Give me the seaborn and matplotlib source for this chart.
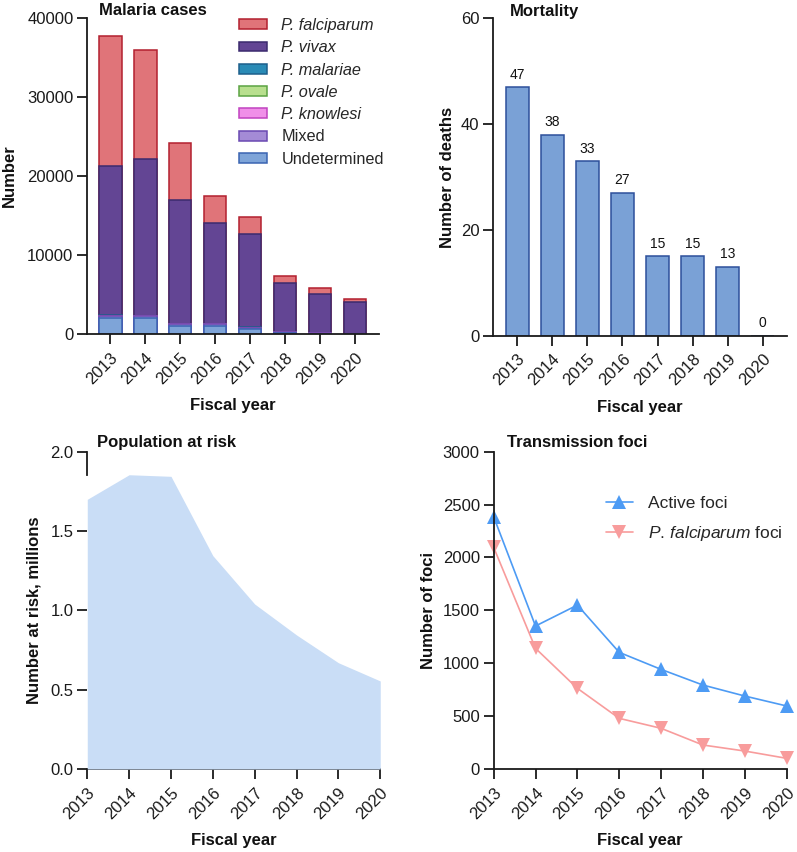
import numpy as np
import pandas as pd
import matplotlib
matplotlib.use("Agg")
import matplotlib.pyplot as plt
from matplotlib.patches import Patch
import seaborn as sns

# ---------------- data ----------------
years = [2013, 2014, 2015, 2016, 2017, 2018, 2019, 2020]
year_labels = [str(y) for y in years]

undetermined = [2000, 2000, 1000, 1000, 600, 150, 40, 20]
mixed = [300, 250, 250, 250, 200, 60, 30, 10]
knowlesi = [5, 5, 5, 5, 5, 5, 5, 5]
ovale = [10, 10, 10, 10, 10, 5, 5, 5]
malariae = [30, 30, 30, 30, 20, 20, 10, 10]
vivax = [18850, 19800, 15700, 12800, 11770, 6160, 4910, 4050]
falciparum = [16500, 13800, 7200, 3400, 2200, 900, 800, 300]

deaths = [47, 38, 33, 27, 15, 15, 13, 0]

pop_at_risk = [1.70, 1.855, 1.845, 1.345, 1.04, 0.845, 0.67, 0.555]

active_foci = [2385, 1352, 1550, 1103, 942, 794, 690, 596]
pf_foci = [2096, 1141, 763, 479, 385, 227, 170, 101]

species_names = ["P. falciparum", "P. vivax", "P. malariae", "P. ovale",
                 "P. knowlesi", "Mixed", "Undetermined"]
species_fill = ["#e07479", "#634594", "#2a8bb6", "#b8df8e", "#f08fe8", "#a48bd6", "#7ea4d8"]
species_edge = ["#b3202f", "#3b2a6e", "#1d5f8c", "#5ba343", "#c143c0", "#6a49b2", "#3a64b2"]

# ---------------- style ----------------
sns.set_theme(style="ticks")
plt.rcParams["font.family"] = ["Liberation Sans", "DejaVu Sans"]
plt.rcParams["mathtext.fontset"] = "custom"
plt.rcParams["mathtext.rm"] = "Liberation Sans"
plt.rcParams["mathtext.it"] = "Liberation Sans:italic"
plt.rcParams["axes.linewidth"] = 1.3
plt.rcParams["xtick.major.width"] = 1.3
plt.rcParams["ytick.major.width"] = 1.3
plt.rcParams["xtick.major.size"] = 7
plt.rcParams["ytick.major.size"] = 7
plt.rcParams["xtick.labelsize"] = 12
plt.rcParams["ytick.labelsize"] = 12
plt.rcParams["xtick.color"] = "#1a1a1a"
plt.rcParams["ytick.color"] = "#1a1a1a"
plt.rcParams["axes.edgecolor"] = "#1a1a1a"

fig = plt.figure(figsize=(7.97, 8.52), dpi=100)
ax1 = fig.add_axes([0.1095, 0.608, 0.3664, 0.371])
ax2 = fig.add_axes([0.619, 0.606, 0.368, 0.3725])
ax3 = fig.add_axes([0.1095, 0.0974, 0.3676, 0.3724])
ax4 = fig.add_axes([0.6194, 0.0974, 0.3676, 0.3724])

label_kw = dict(fontsize=12, fontweight="bold", color="#111111")
title_kw = dict(fontsize=12, fontweight="bold", color="#111111")


def rot_ticks(ax):
    plt.setp(ax.get_xticklabels(), rotation=45, ha="right", rotation_mode="anchor")


# ---------------- panel 1: stacked cases ----------------
# stack indices: 0 undet,1 mixed,2 knowlesi,3 ovale,4 malariae,5 vivax,6 falciparum
stack_bottom_to_top = [undetermined, mixed, knowlesi, ovale, malariae, vivax, falciparum]
cum = np.cumsum(np.array(stack_bottom_to_top), axis=0)
stack_to_name = {0: 6, 1: 5, 2: 4, 3: 3, 4: 2, 5: 1, 6: 0}
for si in [6, 5, 4, 3, 2, 1, 0]:
    ni = stack_to_name[si]
    sns.barplot(x=year_labels, y=cum[si], color=species_fill[ni], edgecolor=species_edge[ni],
                linewidth=1.1, width=0.64, saturation=1, ax=ax1)
ax1.set_xlim(-0.66, 7.69)
ax1.set_ylim(0, 40000)
ax1.set_yticks([0, 10000, 20000, 30000, 40000])
ax1.set_xlabel("Fiscal year", labelpad=8, **label_kw)
ax1.set_ylabel("Number", labelpad=7, **label_kw)
rot_ticks(ax1)
handles = [Patch(facecolor=species_fill[i], edgecolor=species_edge[i], linewidth=1.1)
           for i in range(7)]
leg = ax1.legend(handles, species_names, loc="upper left", bbox_to_anchor=(0.52, 1.0),
                 frameon=False, fontsize=11.7, handlelength=1.7, handleheight=0.55,
                 handletextpad=0.9, labelspacing=0.45, borderpad=0, borderaxespad=0)
for t in leg.get_texts()[:5]:
    t.set_style("italic")
ax1.text(0.04, 1.022, "Malaria cases", transform=ax1.transAxes, va="center", ha="left", **title_kw)

# ---------------- panel 2: mortality ----------------
sns.barplot(x=year_labels, y=deaths, color="#7aa1d6", edgecolor="#2d509b",
            linewidth=1.1, width=0.66, saturation=1, ax=ax2)
ax2.bar_label(ax2.containers[0], fontsize=10, padding=4, color="#111111")
ax2.set_xlim(-0.68, 7.68)
ax2.set_ylim(0, 60)
ax2.set_yticks([0, 20, 40, 60])
ax2.set_xlabel("Fiscal year", labelpad=8, **label_kw)
ax2.set_ylabel("Number of deaths", labelpad=4, **label_kw)
rot_ticks(ax2)
ax2.text(0.055, 1.022, "Mortality", transform=ax2.transAxes, va="center", ha="left", **title_kw)

# ---------------- panel 3: population at risk ----------------
ax3.fill_between(years, pop_at_risk, 0, color="#c9ddf6", linewidth=0, zorder=3)
ax3.set_xlim(2013, 2020)
ax3.set_ylim(0, 2.0)
ax3.set_xticks(years)
ax3.set_xticklabels(year_labels)
ax3.set_yticks([0.0, 0.5, 1.0, 1.5, 2.0])
ax3.set_yticklabels(["0.0", "0.5", "1.0", "1.5", "2.0"])
ax3.set_xlabel("Fiscal year", labelpad=8, **label_kw)
ax3.set_ylabel("Number at risk, millions", labelpad=6, **label_kw)
rot_ticks(ax3)
ax3.text(0.034, 1.03, "Population at risk", transform=ax3.transAxes, va="center", ha="left", **title_kw)

# ---------------- panel 4: transmission foci ----------------
foci_df = pd.DataFrame({"year": years, "active": active_foci, "pf": pf_foci})
sns.lineplot(data=foci_df, x="year", y="active", ax=ax4, color="#4d9bf4", marker="^",
             markersize=10, markeredgewidth=0, linewidth=1.2, label="Active foci", clip_on=False)
sns.lineplot(data=foci_df, x="year", y="pf", ax=ax4, color="#f89c9c", marker="v",
             markersize=10, markeredgewidth=0, linewidth=1.2,
             label=r"$\it{P.\,falciparum}$ foci", clip_on=False)
ax4.set_xlim(2013, 2020)
ax4.set_ylim(0, 3000)
ax4.set_xticks(years)
ax4.set_xticklabels(year_labels)
ax4.set_yticks([0, 500, 1000, 1500, 2000, 2500, 3000])
ax4.set_xlabel("Fiscal year", labelpad=8, **label_kw)
ax4.set_ylabel("Number of foci", labelpad=5, **label_kw)
rot_ticks(ax4)
ax4.legend(loc="upper left", bbox_to_anchor=(0.383, 0.862), frameon=False, fontsize=12.5,
           handlelength=1.55, handletextpad=0.86, labelspacing=0.75, borderpad=0, borderaxespad=0)
ax4.text(0.044, 1.03, "Transmission foci", transform=ax4.transAxes, va="center", ha="left", **title_kw)

for ax in (ax1, ax2, ax3, ax4):
    sns.despine(ax=ax)
    ax.tick_params(axis="x", which="major", pad=4.5)
    ax.tick_params(axis="y", which="major", pad=3)

# left spine of the area panel only shows above the filled area
ax3.spines["left"].set_bounds(max(pop_at_risk), 2.0)

fig.savefig("out.png", dpi=100)
